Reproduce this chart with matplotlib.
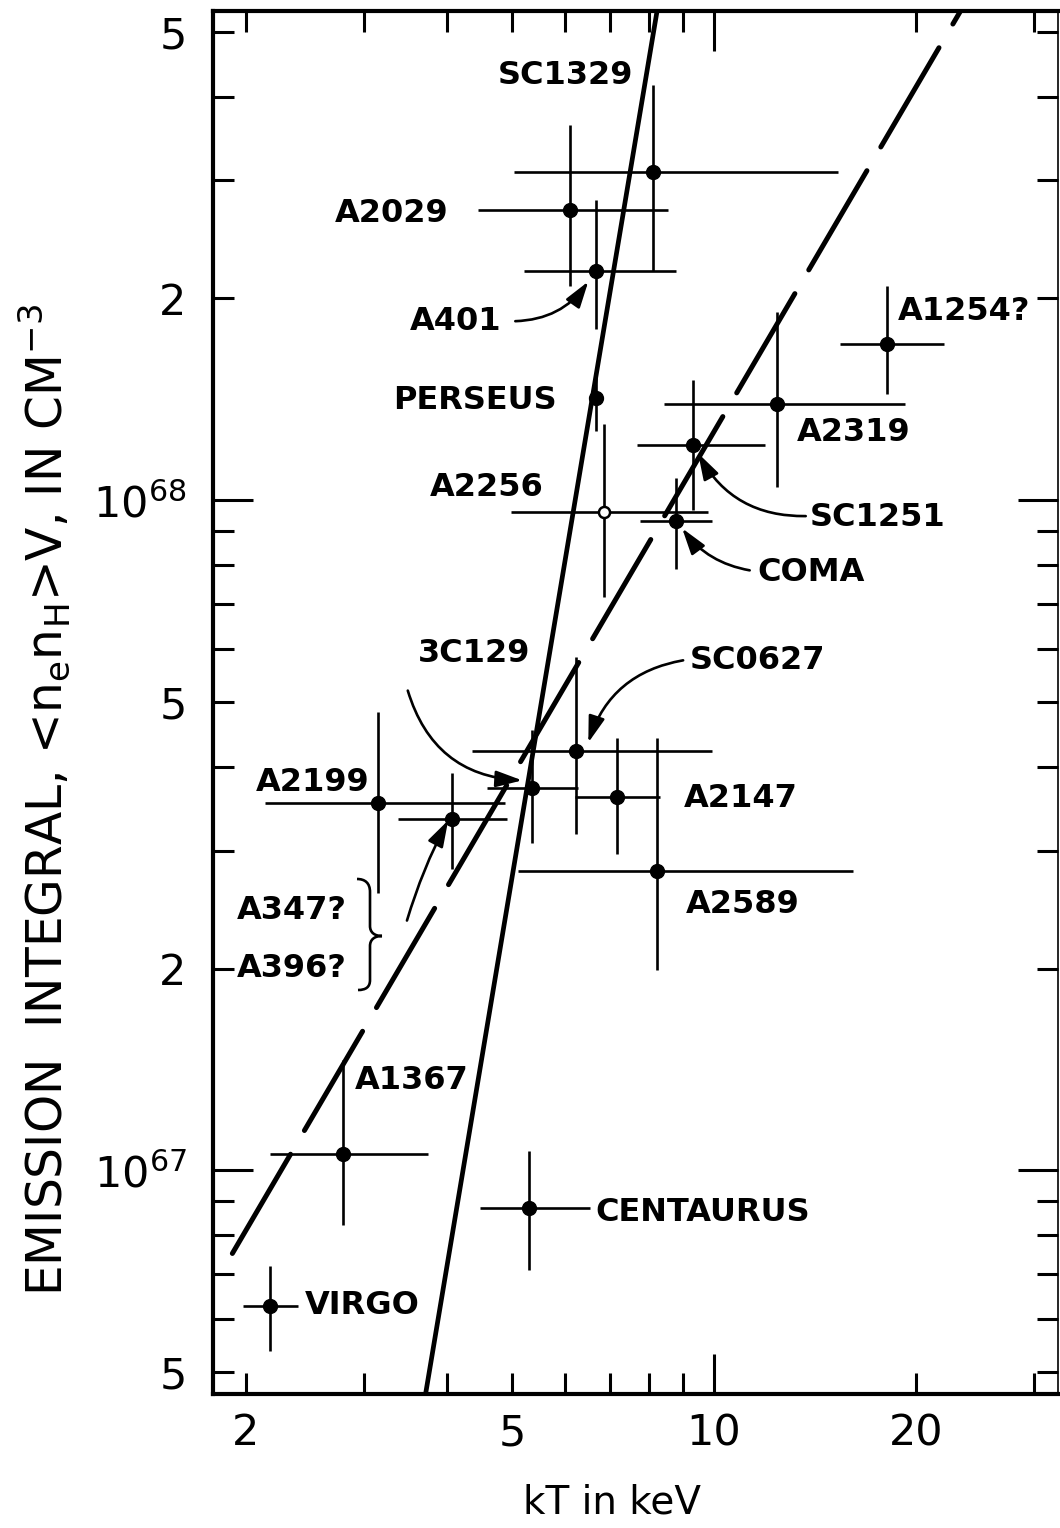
import numpy as np
import matplotlib.pyplot as plt
import matplotlib.transforms as mtransforms
from matplotlib.path import Path
from matplotlib.patches import PathPatch
from matplotlib.ticker import FixedLocator, FuncFormatter

plt.rcParams['font.family'] = ['DejaVu Sans']
plt.rcParams['mathtext.fontset'] = 'dejavusans'

# cluster temperature (keV) and emission integral (cm^-3), bars as lower/upper ends
names = ['VIRGO', 'A1367', 'CENTAURUS', 'A2199', 'A347?', '3C129', 'SC0627', 'A2147',
         'A2589', 'A2256', 'COMA', 'SC1251', 'PERSEUS', 'A2319', 'A1254?', 'A2029',
         'A401', 'SC1329']
kT = np.array([2.17, 2.79, 5.30, 3.15, 4.06, 5.35, 6.22, 7.16,
               8.22, 6.85, 8.78, 9.31, 6.67, 12.4, 18.1, 6.10, 6.67, 8.11])
kT_lo = np.array([1.98, 2.17, 4.48, 2.14, 3.38, 4.58, 4.35, 6.21,
                  5.10, 4.97, 7.76, 7.67, 6.67, 8.42, 15.4, 4.45, 5.20, 5.02])
kT_hi = np.array([2.39, 3.74, 6.53, 4.87, 4.91, 6.27, 9.93, 8.30,
                  16.1, 9.79, 9.93, 11.9, 6.67, 19.3, 22.0, 8.54, 8.78, 15.3])
em = np.array([6.28e66, 1.06e67, 8.78e66, 3.53e67, 3.34e67, 3.72e67, 4.22e67, 3.61e67,
               2.80e67, 9.6e67, 9.3e67, 1.21e68, 1.42e68, 1.39e68, 1.71e68, 2.71e68,
               2.20e68, 3.09e68])
em_lo = np.array([5.38e66, 8.3e66, 7.1e66, 2.59e67, 2.82e67, 3.08e67, 3.18e67, 2.97e67,
                  1.99e67, 7.16e67, 7.9e67, 9.66e67, 1.27e68, 1.045e68, 1.44e68, 2.09e68,
                  1.80e68, 2.20e68])
em_hi = np.array([7.2e66, 1.46e67, 1.07e67, 4.83e67, 3.92e67, 4.54e67, 5.83e67, 4.42e67,
                  4.42e67, 1.30e68, 1.08e68, 1.51e68, 1.55e68, 1.91e68, 2.09e68, 3.63e68,
                  2.81e68, 4.16e68])
open_pt = np.array([n == 'A2256' for n in names])

# model lines (end points)
solid_kT = [3.68, 8.26]
solid_em = [4.42e66, 5.53e68]
dash_kT = [1.91, 24.0]
dash_em = [7.52e66, 5.64e68]

fig = plt.figure(figsize=(10.6, 15.28), dpi=100)
ax = fig.add_axes([213/1060, 134/1528, 845/1060, 1383/1528])
ax.set_xscale('log')
ax.set_yscale('log')
ax.set_xlim(1.787, 32.6)
ax.set_ylim(4.64e66, 5.37e68)

ax.errorbar(kT, em, xerr=[kT - kT_lo, kT_hi - kT], yerr=[em - em_lo, em_hi - em],
            fmt='none', ecolor='black', elinewidth=1.9, capsize=0)
ax.plot(kT[~open_pt], em[~open_pt], 'o', ms=10, color='black')
ax.plot(kT[open_pt], em[open_pt], 'o', ms=8, mfc='white', mec='black', mew=1.8)

ax.plot(solid_kT, solid_em, color='black', lw=3.4, solid_capstyle='butt')
ax.plot(dash_kT, dash_em, color='black', lw=3.6, dashes=(23, 5.5),
        dash_capstyle='round')

# labels
lab = dict(fontsize=23, fontweight='bold', va='center', ha='left')
ax.text(4.76, 4.30e68, 'SC1329', **lab)
ax.text(2.72, 2.68e68, 'A2029', **lab)
ax.text(3.52, 1.85e68, 'A401', **lab)
ax.text(3.32, 1.41e68, 'PERSEUS', **lab)
ax.text(3.77, 1.045e68, 'A2256', **lab)
ax.text(3.61, 5.91e67, '3C129', **lab)
ax.text(2.07, 3.79e67, 'A2199', **lab)
ax.text(1.94, 2.44e67, 'A347?', **lab)
ax.text(1.94, 2.00e67, 'A396?', **lab)
ax.text(2.91, 1.36e67, 'A1367', **lab)
ax.text(6.64, 8.65e66, 'CENTAURUS', **lab)
ax.text(2.45, 6.29e66, 'VIRGO', **lab)
ax.text(9.21, 5.77e67, 'SC0627', **lab)
ax.text(9.02, 3.59e67, 'A2147', **lab)
ax.text(9.08, 2.49e67, 'A2589', **lab)
ax.text(11.6, 7.81e67, 'COMA', **lab)
ax.text(13.9, 9.43e67, 'SC1251', **lab)
ax.text(13.3, 1.26e68, 'A2319', **lab)
ax.text(18.8, 1.91e68, 'A1254?', **lab)

arrow = dict(arrowstyle='-|>,head_length=0.8,head_width=0.25', color='black',
             lw=1.9, shrinkA=0, shrinkB=0, mutation_scale=20)
ax.annotate('', xy=(6.49, 2.12e68), xytext=(5.05, 1.85e68),
            arrowprops=dict(arrow, connectionstyle='arc3,rad=0.25'))
ax.annotate('', xy=(9.465, 1.175e68), xytext=(13.7, 9.47e67),
            arrowprops=dict(arrow, connectionstyle='arc3,rad=-0.3'))
ax.annotate('', xy=(8.96, 9.08e67), xytext=(11.3, 7.86e67),
            arrowprops=dict(arrow, connectionstyle='arc3,rad=-0.2'))
ax.annotate('', xy=(6.49, 4.35e67), xytext=(8.99, 5.77e67),
            arrowprops=dict(arrow, connectionstyle='arc3,rad=0.3'))
ax.annotate('', xy=(5.17, 3.82e67), xytext=(3.49, 5.20e67),
            arrowprops=dict(arrow, connectionstyle='arc3,rad=0.35'))
ax.annotate('', xy=(4.01, 3.33e67), xytext=(3.48, 2.36e67),
            arrowprops=dict(arrow, connectionstyle='arc3,rad=-0.05'))

# brace joining A347? / A396?
ref = mtransforms.Affine2D().translate(-213, -1394).scale(1/845, -1/1383) + ax.transAxes
verts = [(357, 879), (365, 879), (370, 883), (370, 892),
         (370, 926),
         (370, 932), (374, 936), (382, 936),
         (374, 936), (370, 940), (370, 946),
         (370, 980),
         (370, 987), (366, 990), (358, 990)]
codes = [Path.MOVETO, Path.CURVE4, Path.CURVE4, Path.CURVE4,
         Path.LINETO,
         Path.CURVE4, Path.CURVE4, Path.CURVE4,
         Path.CURVE4, Path.CURVE4, Path.CURVE4,
         Path.LINETO,
         Path.CURVE4, Path.CURVE4, Path.CURVE4]
ax.add_patch(PathPatch(Path(verts, codes), transform=ref, fill=False, lw=1.9,
                       clip_on=False))

# ticks
def xfmt(v, p):
    return {2: '2', 5: '5', 10: '10', 20: '20'}.get(int(round(v)), '')

def yfmt_minor(v, p):
    m = v / 10 ** np.floor(np.log10(v) + 1e-9)
    return str(int(round(m))) if int(round(m)) in (2, 5) else ''

def yfmt_major(v, p):
    return r'$10^{%d}$' % int(round(np.log10(v)))

ax.xaxis.set_major_locator(FixedLocator([10]))
ax.xaxis.set_minor_locator(FixedLocator([2, 3, 4, 5, 6, 7, 8, 9, 20, 30]))
ax.xaxis.set_major_formatter(FuncFormatter(xfmt))
ax.xaxis.set_minor_formatter(FuncFormatter(xfmt))
ax.yaxis.set_major_locator(FixedLocator([1e67, 1e68]))
ax.yaxis.set_minor_locator(FixedLocator([5e66, 6e66, 7e66, 8e66, 9e66,
                                         2e67, 3e67, 4e67, 5e67, 6e67, 7e67, 8e67, 9e67,
                                         2e68, 3e68, 4e68, 5e68]))
ax.yaxis.set_major_formatter(FuncFormatter(yfmt_major))
ax.yaxis.set_minor_formatter(FuncFormatter(yfmt_minor))

ax.tick_params(which='both', direction='in', top=True, right=True, width=2.2)
ax.tick_params(which='major', length=29)
ax.tick_params(which='minor', length=15)
ax.tick_params(axis='x', which='both', pad=13, labelsize=31)
ax.tick_params(axis='y', which='both', pad=19, labelsize=31)

for s in ['left', 'bottom', 'top']:
    ax.spines[s].set_linewidth(3)
ax.spines['right'].set_linewidth(1.2)

fig.text(612/1060, 1 - 1503/1528, 'kT in keV', fontsize=28, ha='center', va='center')
fig.text(45/1060, 1 - 800/1528,
         r'EMISSION  INTEGRAL, <n$_\mathrm{e}$n$_\mathrm{H}$>V, IN CM$^{-3}$',
         fontsize=35, rotation=90, ha='center', va='center')

fig.savefig('out.png', dpi=100)
